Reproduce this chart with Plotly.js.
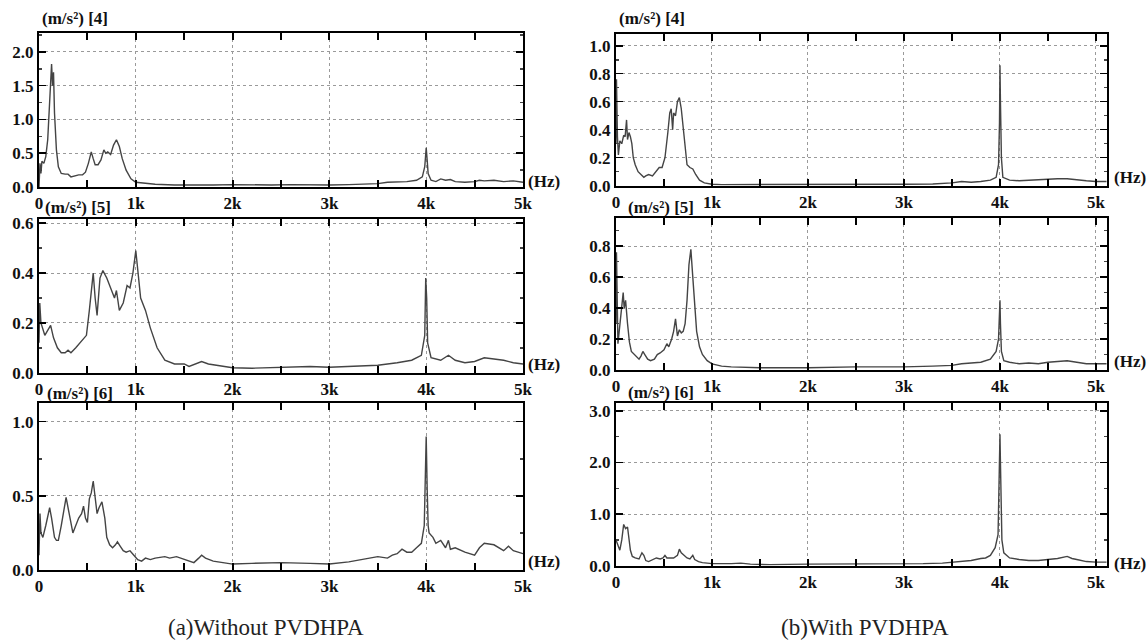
<!DOCTYPE html>
<html>
<head>
<meta charset="utf-8">
<script src="https://cdn.plot.ly/plotly-3.0.1.min.js"></script>
<style>html,body{margin:0;padding:0;background:#fff;}#chart{width:1148px;height:643px;}</style>
</head>
<body>
<div id="chart"></div>
<script>
// ---------- data (frequency in Hz, amplitude in m/s^2) ----------
const xTickVals = [0, 1000, 2000, 3000, 4000, 5000];
const xTickText = ['0', '1k', '2k', '3k', '4k', '5k'];

const panelLabels = ['(m/s²) [4]', '(m/s²) [5]', '(m/s²) [6]', '(m/s²) [4]', '(m/s²) [5]', '(m/s²) [6]'];
const captions = ['(a)Without PVDHPA', '(b)With PVDHPA'];

// (a) Without PVDHPA, sensor 4
const a4_f = [0,10,20,30,50,70,90,110,120,130,140,150,160,180,200,230,270,300,330,370,410,450,480,510,540,560,580,610,640,670,690,710,740,770,800,830,860,900,950,1000,1100,1200,1400,1600,1800,2000,2200,2400,2600,2800,3000,3200,3400,3500,3600,3700,3800,3900,3960,3985,4000,4010,4020,4050,4100,4150,4200,4250,4300,4400,4500,4550,4600,4700,4800,4900,5000];
const a4_y = [0.0,0.35,0.2,0.38,0.35,0.45,0.7,1.2,1.6,1.82,1.5,1.7,1.1,0.55,0.3,0.2,0.19,0.19,0.15,0.17,0.18,0.18,0.22,0.35,0.52,0.42,0.33,0.33,0.4,0.55,0.5,0.52,0.48,0.62,0.7,0.6,0.42,0.25,0.12,0.07,0.05,0.04,0.03,0.025,0.03,0.035,0.03,0.03,0.035,0.03,0.03,0.035,0.04,0.05,0.07,0.07,0.08,0.1,0.15,0.3,0.58,0.4,0.2,0.1,0.08,0.12,0.1,0.11,0.08,0.07,0.08,0.1,0.09,0.1,0.08,0.09,0.07];

// (a) Without PVDHPA, sensor 5
const a5_f = [0,8,20,40,60,90,120,150,190,230,270,300,330,380,450,490,520,560,580,600,630,660,700,750,780,800,830,870,910,940,970,1000,1020,1050,1100,1150,1220,1300,1400,1500,1550,1620,1680,1750,1850,2000,2200,2500,2800,3000,3300,3500,3700,3850,3950,3985,3995,4005,4015,4050,4150,4230,4300,4400,4500,4600,4700,4800,4900,5000];
const a5_y = [0.12,0.28,0.2,0.17,0.15,0.17,0.19,0.14,0.1,0.08,0.08,0.09,0.08,0.1,0.13,0.15,0.25,0.4,0.3,0.23,0.38,0.41,0.38,0.33,0.3,0.33,0.25,0.28,0.35,0.34,0.4,0.49,0.42,0.3,0.25,0.18,0.1,0.05,0.035,0.035,0.025,0.035,0.045,0.035,0.03,0.02,0.018,0.02,0.025,0.022,0.025,0.03,0.04,0.05,0.07,0.15,0.38,0.3,0.12,0.06,0.05,0.07,0.05,0.04,0.045,0.06,0.055,0.05,0.04,0.035];

// (a) Without PVDHPA, sensor 6
const a6_f = [0,10,20,40,70,110,130,160,180,200,230,260,280,300,330,350,380,410,440,460,480,500,520,540,560,580,600,620,650,680,700,730,760,790,810,840,870,900,940,980,1020,1060,1100,1150,1200,1300,1350,1420,1500,1600,1650,1680,1720,1800,1900,2000,2200,2500,2800,3000,3200,3400,3500,3600,3650,3700,3750,3800,3850,3900,3950,3980,3990,4000,4010,4020,4030,4070,4100,4150,4200,4230,4250,4300,4400,4500,4550,4600,4700,4750,4800,4850,4900,5000];
const a6_y = [0.1,0.38,0.25,0.22,0.3,0.42,0.35,0.22,0.2,0.2,0.3,0.42,0.49,0.42,0.3,0.25,0.3,0.35,0.38,0.43,0.35,0.32,0.48,0.52,0.6,0.5,0.38,0.42,0.46,0.35,0.22,0.17,0.15,0.17,0.19,0.16,0.13,0.12,0.13,0.1,0.07,0.06,0.08,0.07,0.08,0.09,0.08,0.09,0.07,0.05,0.08,0.1,0.08,0.06,0.05,0.04,0.045,0.05,0.045,0.04,0.055,0.08,0.09,0.08,0.1,0.11,0.14,0.12,0.12,0.15,0.18,0.3,0.6,0.9,0.55,0.3,0.25,0.22,0.18,0.2,0.15,0.2,0.14,0.15,0.12,0.1,0.15,0.18,0.17,0.15,0.13,0.16,0.13,0.11];

// (b) With PVDHPA, sensor 4
const b4_f = [0,5,15,25,40,60,80,95,110,120,135,150,165,180,200,230,260,290,310,340,380,420,450,480,510,540,560,575,590,600,620,640,660,680,700,720,740,770,800,830,870,920,1000,1100,1300,1500,2000,2500,3000,3300,3500,3600,3700,3800,3900,3960,3985,3995,4000,4005,4015,4030,4100,4200,4300,4400,4500,4600,4700,4800,4900,5000,5110];
const b4_y = [0.3,0.76,0.35,0.22,0.32,0.3,0.36,0.35,0.47,0.33,0.38,0.35,0.3,0.2,0.15,0.1,0.08,0.06,0.07,0.08,0.07,0.1,0.13,0.13,0.2,0.38,0.52,0.55,0.4,0.52,0.5,0.6,0.63,0.55,0.4,0.25,0.15,0.13,0.12,0.08,0.04,0.02,0.01,0.008,0.008,0.006,0.007,0.008,0.01,0.012,0.02,0.03,0.025,0.03,0.04,0.06,0.15,0.45,0.86,0.6,0.2,0.06,0.04,0.035,0.04,0.04,0.045,0.05,0.05,0.04,0.035,0.03,0.03];

// (b) With PVDHPA, sensor 5
const b5_f = [0,5,20,40,60,75,85,100,120,140,160,190,220,240,260,280,300,330,360,400,430,460,500,530,550,580,600,620,640,660,680,700,720,740,760,780,800,820,840,870,900,950,1000,1100,1200,1500,2000,2500,3000,3300,3500,3600,3700,3800,3900,3960,3985,3995,4000,4005,4015,4040,4100,4200,4300,4400,4500,4600,4700,4800,4900,5000,5110];
const b5_y = [0.3,0.76,0.17,0.3,0.42,0.5,0.4,0.45,0.3,0.18,0.12,0.1,0.08,0.07,0.09,0.12,0.1,0.07,0.06,0.07,0.1,0.11,0.13,0.17,0.15,0.2,0.25,0.33,0.22,0.26,0.24,0.25,0.3,0.45,0.68,0.78,0.6,0.4,0.25,0.15,0.1,0.06,0.04,0.025,0.02,0.015,0.015,0.02,0.02,0.025,0.03,0.04,0.045,0.05,0.07,0.12,0.2,0.35,0.45,0.3,0.12,0.06,0.05,0.04,0.045,0.04,0.05,0.055,0.06,0.05,0.04,0.04,0.04];

// (b) With PVDHPA, sensor 6
const b6_f = [0,20,40,60,80,100,120,130,150,170,200,240,270,290,310,340,380,420,460,490,510,530,560,600,640,660,680,710,740,770,800,820,860,900,950,1000,1200,1300,1400,1600,2000,2400,2800,3000,3200,3400,3600,3700,3800,3850,3900,3950,3980,3990,4000,4005,4010,4020,4040,4100,4200,4300,4400,4500,4600,4700,4750,4800,4900,5000,5110];
const b6_y = [0.5,0.4,0.3,0.5,0.8,0.72,0.75,0.6,0.3,0.18,0.15,0.13,0.25,0.2,0.1,0.08,0.12,0.15,0.13,0.15,0.2,0.15,0.15,0.15,0.2,0.32,0.25,0.2,0.15,0.13,0.2,0.12,0.08,0.06,0.05,0.04,0.04,0.05,0.03,0.02,0.03,0.03,0.03,0.035,0.04,0.05,0.08,0.1,0.14,0.15,0.2,0.35,0.6,1.4,2.55,2.0,1.0,0.5,0.25,0.15,0.12,0.1,0.1,0.12,0.14,0.18,0.14,0.12,0.08,0.07,0.07];

// ---------- layout helpers ----------
const W = 1148, H = 643;
const series = [
  {f: a4_f, y: a4_y}, {f: a5_f, y: a5_y}, {f: a6_f, y: a6_y},
  {f: b4_f, y: b4_y}, {f: b5_f, y: b5_y}, {f: b6_f, y: b6_y}
];
const boxes = [
  {l: 39, r: 523, t: 33, b: 187, xmax: 5000, ymax: 2.28, dt: 0.5, mdt: 0.25},
  {l: 39, r: 523, t: 219, b: 372.7, xmax: 5000, ymax: 0.617, dt: 0.2, mdt: 0.1},
  {l: 39, r: 523, t: 403, b: 570, xmax: 5000, ymax: 1.126, dt: 0.5, mdt: 0.25},
  {l: 616, r: 1107, t: 34, b: 185.7, xmax: 5115, ymax: 1.084, dt: 0.2, mdt: 0.1},
  {l: 616, r: 1107, t: 218.3, b: 370, xmax: 5115, ymax: 0.98, dt: 0.2, mdt: 0.1},
  {l: 616, r: 1107, t: 402.7, b: 565.7, xmax: 5115, ymax: 3.16, dt: 1.0, mdt: 0.5}
];
const labelPos = [
  {x: 40, y: 19}, {x: 43, y: 207}, {x: 45, y: 393},
  {x: 617, y: 19}, {x: 626, y: 207}, {x: 626, y: 392}
];
const hzPos = [
  {x: 526, y: 181}, {x: 526, y: 365}, {x: 526, y: 561},
  {x: 1112, y: 177}, {x: 1112, y: 361}, {x: 1112, y: 563}
];

const SERIF = '"Liberation Serif", "Times New Roman", serif';
const tickFont = {family: SERIF, size: 17, color: '#111', weight: 700};
const gridStyle = {gridcolor: '#9a9a9a', griddash: 'dot', gridwidth: 1};

const traces = [];
const layout = {
  width: W, height: H,
  margin: {l: 0, r: 0, t: 0, b: 0},
  paper_bgcolor: '#fff', plot_bgcolor: '#fff',
  showlegend: false,
  annotations: []
};

series.forEach((s, i) => {
  const n = i + 1;
  const bx = boxes[i];
  traces.push({
    x: s.f, y: s.y, type: 'scatter', mode: 'lines',
    xaxis: 'x' + n, yaxis: 'y' + n,
    line: {color: '#444', width: 1.4},
    hoverinfo: 'skip'
  });
  const xd = [bx.l / W, bx.r / W];
  const yd = [1 - bx.b / H, 1 - bx.t / H];
  layout['xaxis' + n] = Object.assign({
    domain: xd, anchor: 'y' + n, range: [0, bx.xmax],
    tickmode: 'array', tickvals: xTickVals, ticktext: xTickText,
    ticks: 'inside', ticklen: 7, tickwidth: 2, tickcolor: '#000',
    minor: {ticks: 'inside', ticklen: 7, tickwidth: 2, dtick: 500, tick0: 0, tickcolor: '#000', showgrid: false},
    showgrid: true, zeroline: false,
    showline: true, linecolor: '#000', linewidth: 2, mirror: 'ticks',
    tickfont: tickFont, ticklabelstandoff: 0, fixedrange: true
  }, gridStyle);
  layout['yaxis' + n] = Object.assign({
    domain: yd, anchor: 'x' + n, range: [0, bx.ymax],
    dtick: bx.dt, tick0: 0, tickformat: '.1f',
    ticks: 'inside', ticklen: 7, tickwidth: 1.5, tickcolor: '#000',
    minor: {ticks: 'inside', ticklen: 3, dtick: bx.mdt, tick0: 0, tickcolor: '#444', showgrid: false},
    showgrid: true, zeroline: false,
    showline: true, linecolor: '#000', linewidth: 2, mirror: 'ticks',
    tickfont: tickFont, ticklabelstandoff: 0, fixedrange: true
  }, gridStyle);
  layout.annotations.push({
    xref: 'paper', yref: 'paper', x: labelPos[i].x / W, y: 1 - labelPos[i].y / H,
    xanchor: 'left', yanchor: 'middle', showarrow: false,
    text: '<b>' + panelLabels[i] + '</b>', font: {family: SERIF, size: 17, color: '#111'}
  });
  layout.annotations.push({
    xref: 'paper', yref: 'paper', x: hzPos[i].x / W, y: 1 - hzPos[i].y / H,
    xanchor: 'left', yanchor: 'middle', showarrow: false,
    text: '<b>(Hz)</b>', font: {family: SERIF, size: 17, color: '#111'}
  });
});

layout.annotations.push({
  xref: 'paper', yref: 'paper', x: 266 / W, y: 1 - 627 / H,
  xanchor: 'center', yanchor: 'middle', showarrow: false,
  text: captions[0], font: {family: SERIF, size: 23, color: '#222'}
});
layout.annotations.push({
  xref: 'paper', yref: 'paper', x: 865 / W, y: 1 - 627 / H,
  xanchor: 'center', yanchor: 'middle', showarrow: false,
  text: captions[1], font: {family: SERIF, size: 23, color: '#222'}
});

Plotly.newPlot('chart', traces, layout, {staticPlot: true, displayModeBar: false});
</script>
</body>
</html>
